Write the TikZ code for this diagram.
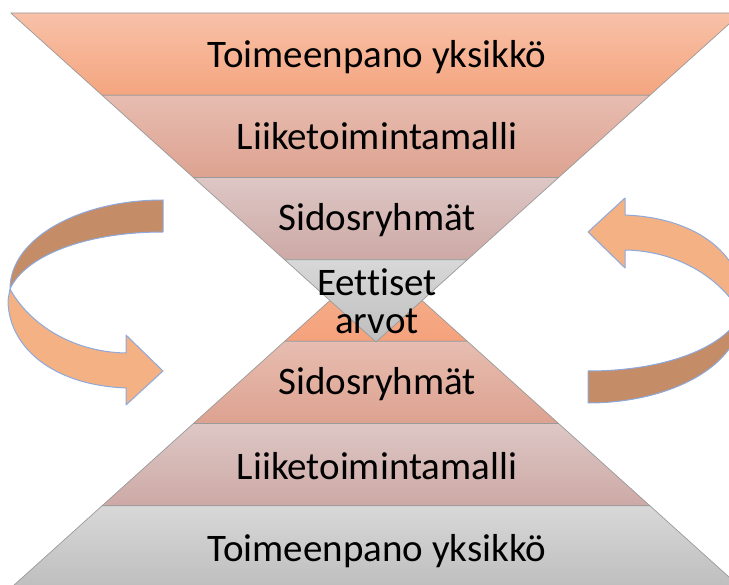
\documentclass[tikz,border=0pt]{standalone}
\usepackage{fontspec}
\setmainfont[Ligatures=NoCommon]{Carlito}
\definecolor{edgegray}{HTML}{9A9A9A}
\definecolor{ribbonblue}{HTML}{8EA9DB}
\definecolor{ribbonback}{HTML}{C48C67}
\definecolor{ribbonfront}{HTML}{F4B183}
% band colours (top / bottom of each gradient)
\definecolor{salmonA}{HTML}{F8C1A8}\definecolor{salmonB}{HTML}{F4A57F}
\definecolor{roseA}{HTML}{E7BDB1}\definecolor{roseB}{HTML}{DDA290}
\definecolor{dustA}{HTML}{DDC7C5}\definecolor{dustB}{HTML}{CDA9A5}
\definecolor{greyA}{HTML}{D8D8D8}\definecolor{greyB}{HTML}{BEBEBE}
\definecolor{apexA}{HTML}{F7B291}\definecolor{apexB}{HTML}{F4A27C}
\begin{document}
\begin{tikzpicture}[x=1pt,y=-1pt,
  band/.style={draw=edgegray, line width=0.7pt, line join=round},
  label/.style={font=\fontsize{39}{36}\selectfont, anchor=base, inner sep=0pt, align=center},
  ribbon/.style={draw=ribbonblue, line width=1pt, line join=round}]
\useasboundingbox (0,0) rectangle (729,585);
\clip (0,0) rectangle (729,585);

% curved arrow on the left, and the same arrow turned half round on the right
\foreach \turn in {0,180}{
  \begin{scope}[rotate around={\turn:(375.5,301.5)}]
    \path[ribbon, fill=ribbonback]
      (163,200) .. controls (80,200) and (10,238) .. (10,289)
      .. controls (25,256) and (85,232) .. (163,232) -- cycle;
    \path[ribbon, fill=ribbonfront]
      (10,289) .. controls (28,322) and (70,352) .. (126,353)
      -- (126,335) -- (163,371) -- (126,405) -- (126,388)
      .. controls (50,385) and (8,345) .. (8,300) -- cycle;
  \end{scope}
}

% upright pyramid (apex hidden behind the inverted one)
\path[band, top color=apexA, bottom color=apexB]
  (376,259) -- (467.3,341.25) -- (284.7,341.25) -- cycle;
\path[band, top color=roseA, bottom color=roseB]
  (284.7,341.25) -- (467.3,341.25) -- (558.6,423.5) -- (193.4,423.5) -- cycle;
\path[band, top color=dustA, bottom color=dustB]
  (193.4,423.5) -- (558.6,423.5) -- (649.9,505.75) -- (102.1,505.75) -- cycle;
\path[band, top color=greyA, bottom color=greyB]
  (102.1,505.75) -- (649.9,505.75) -- (741.2,588) -- (10.8,588) -- cycle;

% inverted pyramid
\path[band, top color=salmonA, bottom color=salmonB]
  (10.8,13) -- (741.2,13) -- (649.9,95.25) -- (102.1,95.25) -- cycle;
\path[band, top color=roseA, bottom color=roseB]
  (102.1,95.25) -- (649.9,95.25) -- (558.6,177.5) -- (193.4,177.5) -- cycle;
\path[band, top color=dustA, bottom color=dustB]
  (193.4,177.5) -- (558.6,177.5) -- (467.3,259.75) -- (284.7,259.75) -- cycle;
\path[band, top color=greyA, bottom color=greyB]
  (284.7,259.75) -- (467.3,259.75) -- (376,342) -- cycle;

% labels
\node[label] (t1) at (377,68) {Toimeenpano yksikkö};
\node[label] (t2) at (377,150) {Liiketoimintamalli};
\node[label] (t3) at (377,231) {Sidosryhmät};
\node[label] (c1) at (377,296) {Eettiset};
\node[label] (c2) at (377,334) {arvot};
\node[label] (b3) at (377,395) {Sidosryhmät};
\node[label] (b2) at (377,479) {Liiketoimintamalli};
\node[label] (b1) at (377,561) {Toimeenpano yksikkö};
\end{tikzpicture}
\end{document}
